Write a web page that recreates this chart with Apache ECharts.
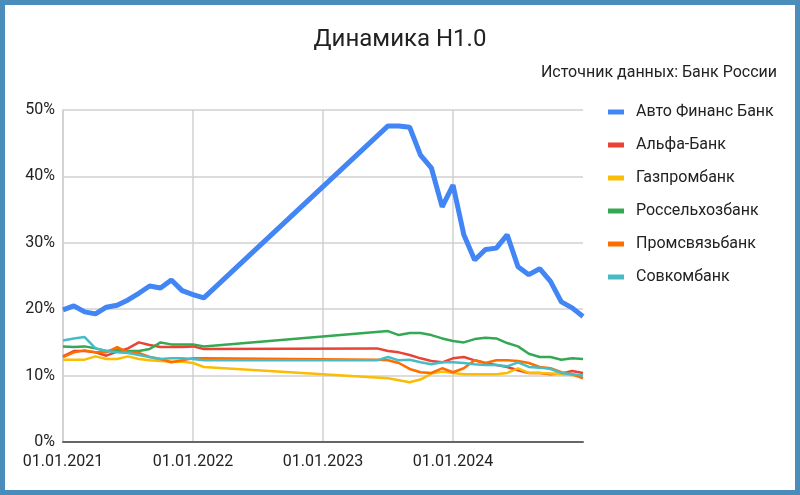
<!DOCTYPE html>
<html>
<head>
<meta charset="utf-8">
<script src="https://cdn.jsdelivr.net/npm/echarts@6/dist/echarts.min.js"></script>
<style>
  html, body { margin: 0; padding: 0; background: #fff; }
  #main { width: 800px; height: 495px; }
  #frame { position: absolute; left: 0; top: 0; width: 800px; height: 495px; box-sizing: border-box; border: 5px solid #4a8cba; pointer-events: none; }
</style>
</head>
<body>
<div id="main"></div>
<div id="frame"></div>
<script>
// месяцы наблюдений (пропуск между 2022-02 и 2023-06 в исходных данных)
var months = ['2021-01', '2021-02', '2021-03', '2021-04', '2021-05', '2021-06', '2021-07', '2021-08', '2021-09', '2021-10', '2021-11', '2021-12',
  '2022-01', '2022-02', '2023-06', '2023-07', '2023-08', '2023-09', '2023-10', '2023-11', '2023-12',
  '2024-01', '2024-02', '2024-03', '2024-04', '2024-05', '2024-06', '2024-07', '2024-08', '2024-09', '2024-10', '2024-11', '2024-12', '2025-01']

var avtoFinans = [19.9, 20.5, 19.6, 19.3, 20.3, 20.6, 21.4, 22.4, 23.5, 23.2, 24.4, 22.8,
  22.2, 21.7, null, 47.6, 47.6, 47.4, 43.2, 41.3, 35.4,
  38.7, 31.2, 27.4, 29.0, 29.2, 31.2, 26.4, 25.2, 26.1, 24.2, 21.1, 20.2, 18.9]
var alfa = [12.9, 13.7, 13.7, 13.5, 13.0, 13.6, 14.1, 15.0, 14.6, 14.3, 14.3, 14.3,
  14.4, 14.0, 14.1, 13.7, 13.5, 13.1, 12.6, 12.2, 12.0,
  12.6, 12.8, 12.3, 11.9, 11.6, 11.3, 10.8, 10.4, 10.4, 10.2, 10.3, 10.7, 10.4]
var gazprom = [12.4, 12.4, 12.4, 12.9, 12.5, 12.5, 12.9, 12.5, 12.3, 12.2, 12.1, 12.1,
  11.9, 11.3, null, 9.6, 9.3, 9.0, 9.4, 10.3, 10.6,
  10.4, 10.2, 10.2, 10.2, 10.2, 10.4, 11.1, 10.4, 10.4, 10.3, 10.2, 10.1, 9.9]
var rshb = [14.4, 14.3, 14.4, 14.1, 13.7, 13.8, 13.7, 13.7, 14.0, 15.0, 14.7, 14.7,
  14.7, 14.4, null, 16.7, 16.1, 16.4, 16.4, 16.1, 15.6,
  15.2, 15.0, 15.5, 15.7, 15.6, 14.9, 14.4, 13.3, 12.8, 12.8, 12.4, 12.6, 12.5]
var psb = [12.8, 13.5, 13.8, 13.5, 13.5, 14.3, 13.5, 13.4, 12.8, 12.5, 12.0, 12.3,
  12.6, 12.6, 12.4, 12.3, 11.9, 11.0, 10.5, 10.4, 11.1,
  10.5, 11.1, 12.3, 11.9, 12.3, 12.3, 12.2, 11.9, 11.3, 11.1, 10.5, 10.2, 9.6]
var sovkom = [15.3, 15.6, 15.8, 14.1, 13.7, 13.5, 13.4, 13.1, 12.8, 12.5, 12.6, 12.6,
  12.5, 12.3, 12.3, 12.8, 12.3, 12.4, 12.0, 11.7, 12.0,
  12.0, 11.9, 11.7, 11.6, 11.6, 11.4, 12.0, 11.3, 11.2, 11.0, 10.4, 10.2, 10.0]

var seriesNames = ['Авто Финанс Банк', 'Альфа-Банк', 'Газпромбанк', 'Россельхозбанк', 'Промсвязьбанк', 'Совкомбанк']
var seriesValues = [avtoFinans, alfa, gazprom, rshb, psb, sovkom]
var colors = ['#4285f4', '#ea4335', '#fbbc04', '#34a853', '#ff6d01', '#46bdc6']

function monthIndex(s) {
  var p = s.split('-')
  return (Number(p[0]) - 2021) * 12 + (Number(p[1]) - 1)
}

var series = []
for (var i = 0; i < seriesNames.length; i++) {
  var data = []
  for (var j = 0; j < months.length; j++) {
    data.push([monthIndex(months[j]), seriesValues[i][j]])
  }
  series.push({
    name: seriesNames[i],
    type: 'line',
    data: data,
    showSymbol: false,
    connectNulls: true,
    lineStyle: { width: i === 0 ? 5 : 2.5, color: colors[i] },
    itemStyle: { color: colors[i] }
  })
}

var myChart = echarts.init(document.getElementById('main'))
var option = {
  animation: false,
  textStyle: { fontFamily: 'Roboto' },
  title: [
    {
      text: 'Динамика Н1.0',
      left: 'center',
      top: 23,
      textStyle: { fontSize: 24, fontWeight: 'normal', color: '#222' }
    },
    {
      text: 'Источник данных: Банк России',
      right: 18,
      top: 60,
      textStyle: { fontSize: 16, fontWeight: 'normal', color: '#222' }
    }
  ],
  legend: {
    orient: 'vertical',
    left: 603,
    top: 99,
    icon: 'rect',
    itemWidth: 16,
    itemHeight: 5,
    itemGap: 17,
    textStyle: { fontSize: 16, color: '#222', padding: [0, 0, 0, 7] },
    data: seriesNames
  },
  grid: { left: 63, right: 217, top: 110, bottom: 53 },
  xAxis: {
    type: 'value',
    min: 0,
    max: 48,
    interval: 12,
    axisLine: { show: true, lineStyle: { color: '#666', width: 2 } },
    axisTick: { show: false },
    splitLine: { show: true, showMaxLine: false, lineStyle: { color: '#d0d0d0', width: 1.5 } },
    axisLabel: {
      fontSize: 16,
      color: '#222',
      margin: 12,
      formatter: function(v) {
        if (v >= 48) return ''
        return '01.01.' + (2021 + v / 12)
      }
    }
  },
  yAxis: {
    type: 'value',
    min: 0,
    max: 50,
    interval: 10,
    axisLine: { show: true, lineStyle: { color: '#d0d0d0', width: 1.5 } },
    axisTick: { show: false },
    splitLine: { lineStyle: { color: '#d0d0d0', width: 1.5 } },
    axisLabel: {
      fontSize: 16,
      color: '#222',
      margin: 8,
      formatter: '{value}%'
    }
  },
  series: series
}
myChart.setOption(option)
</script>
</body>
</html>
